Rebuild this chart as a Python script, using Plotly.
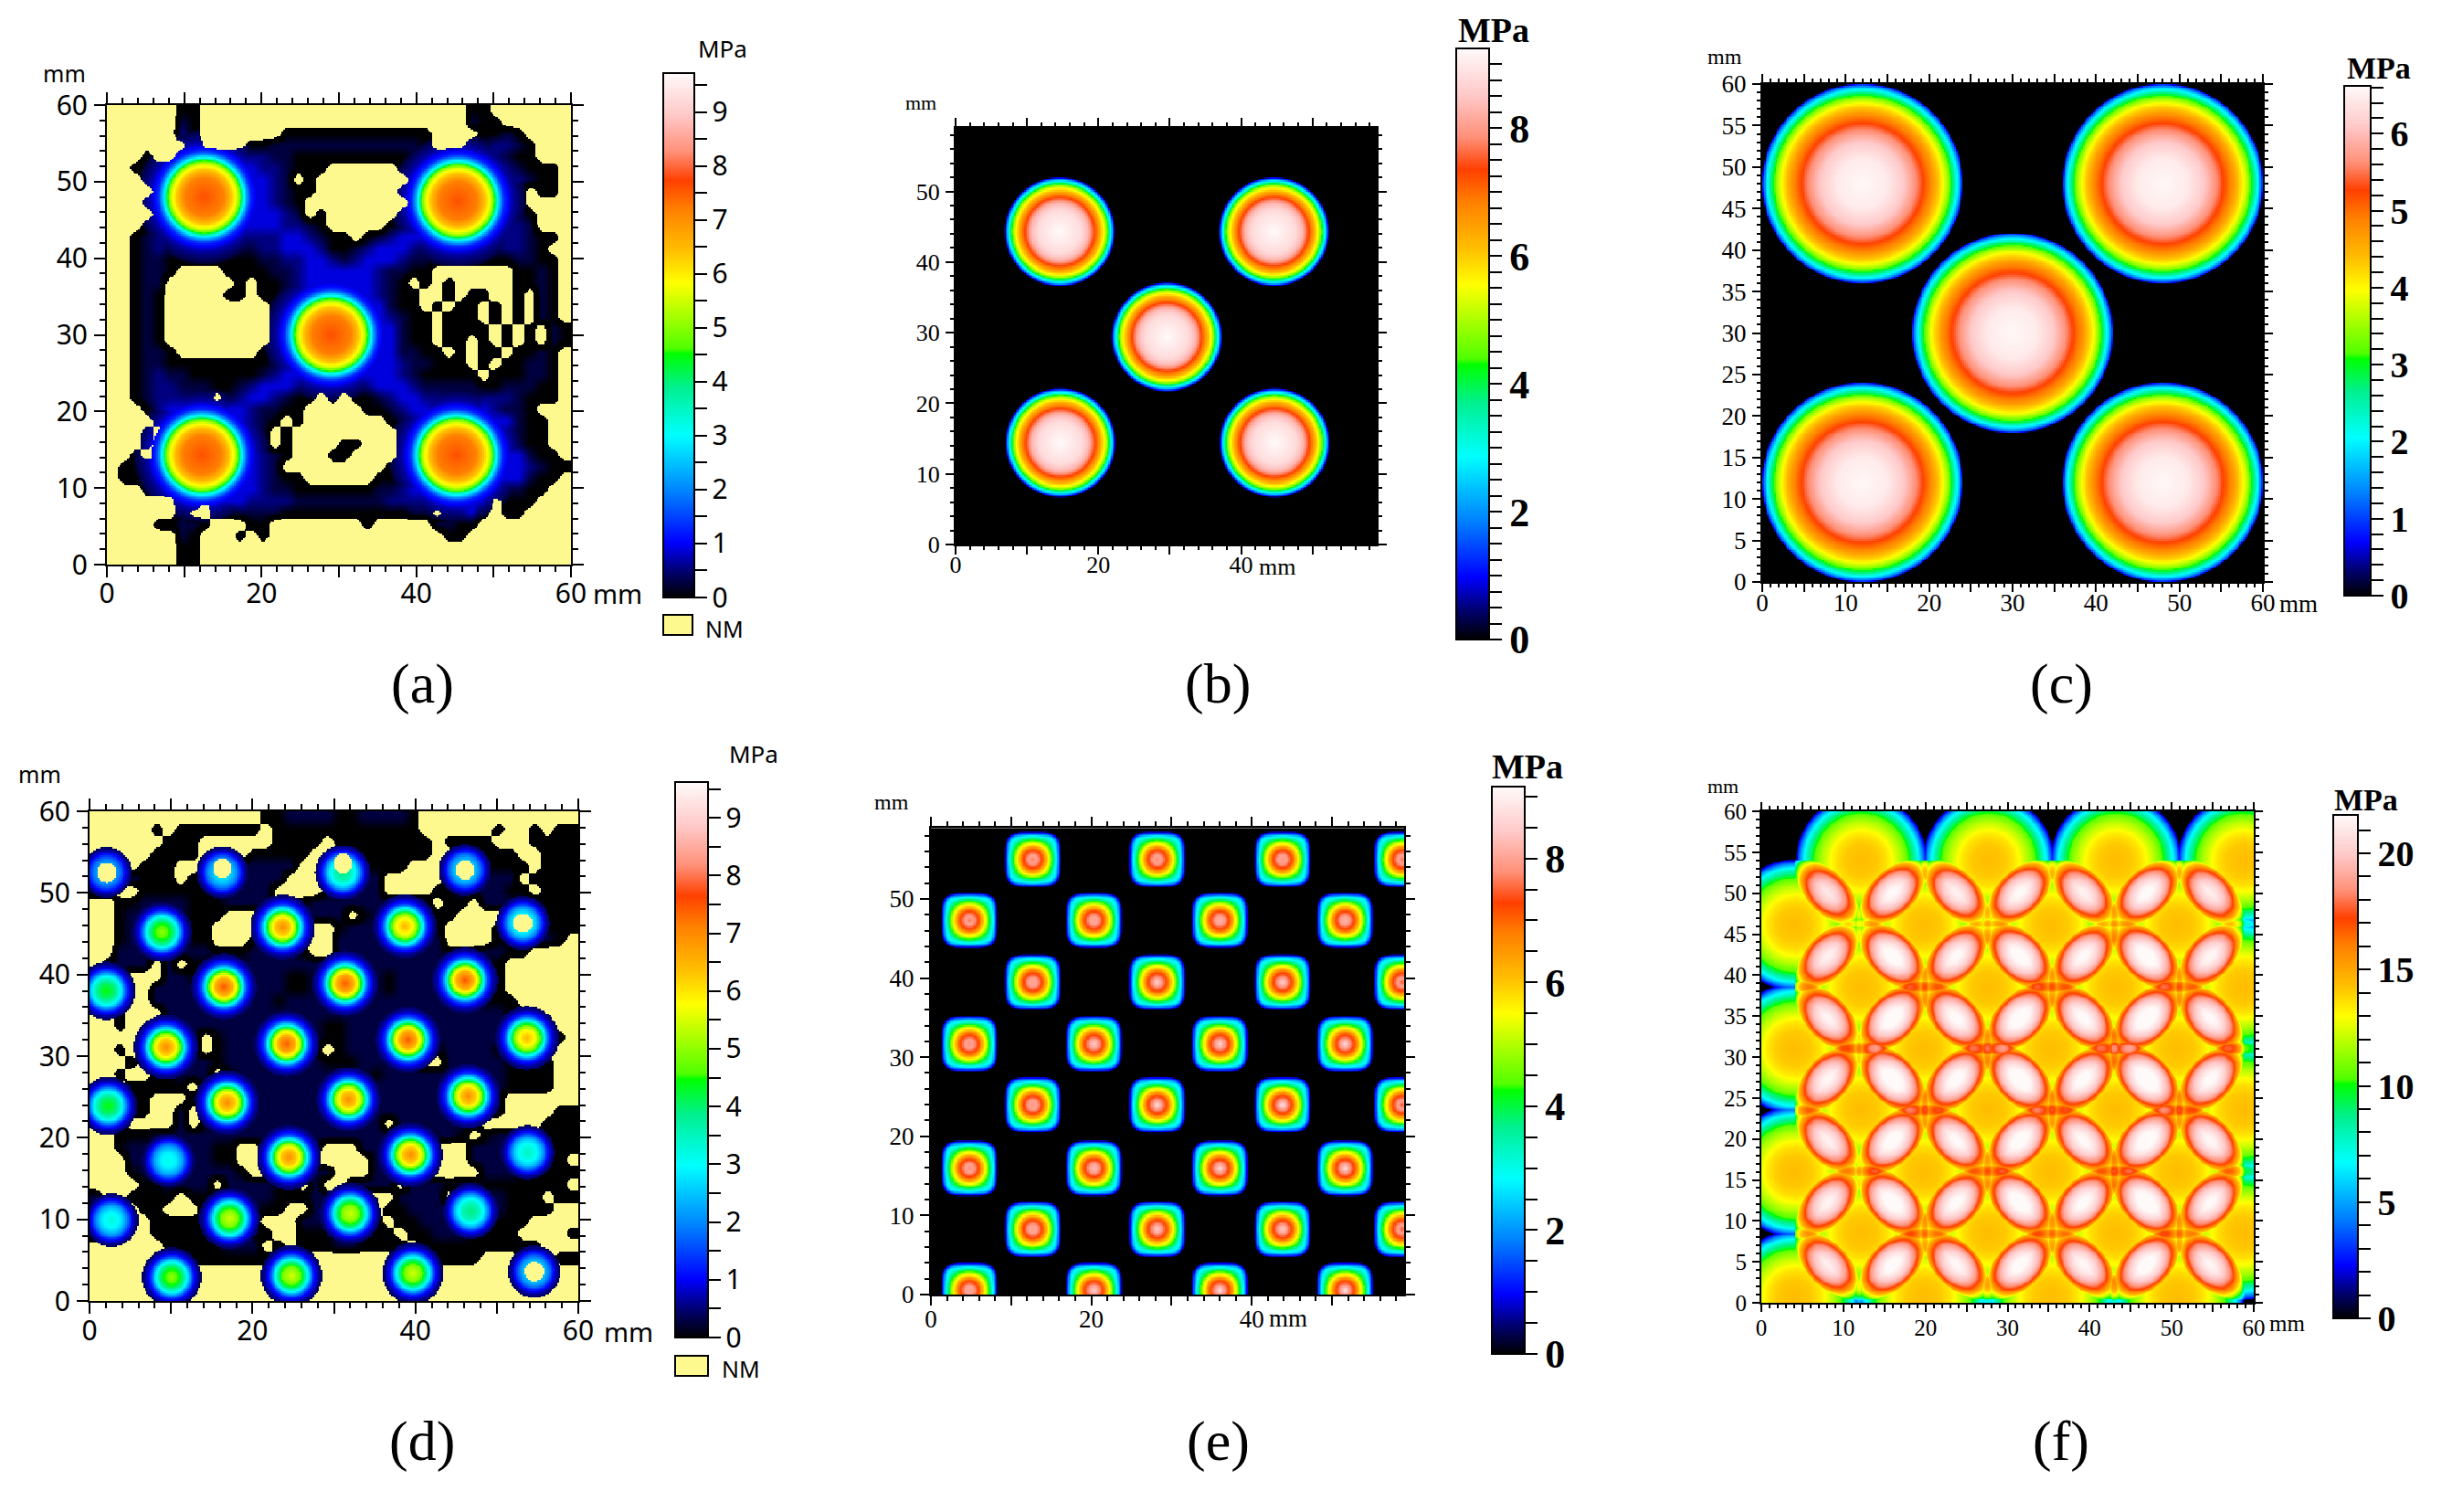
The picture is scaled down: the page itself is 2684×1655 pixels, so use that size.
import numpy as np
import plotly.graph_objects as go

W, H = 2684, 1655
NM_YELLOW = "#fdf98f"
SANS = "Noto Sans"
SERIF = "Liberation Serif"

STRESS_SCALE = [
    [0.0, "#000000"], [0.05, "#000070"], [0.105, "#0000ff"], [0.2, "#0080ff"],
    [0.31, "#00ffff"], [0.40, "#00f090"], [0.465, "#00ff00"], [0.475, "#50ff00"],
    [0.60, "#ffff00"], [0.66, "#ffc000"], [0.74, "#ff8000"], [0.795, "#ff4000"],
    [0.85, "#ff9078"], [0.92, "#ffc8c8"], [1.0, "#fffafa"],
]

# The maps are rebuilt from what can be read off the picture: spot centres,
# a stress-vs-radius profile per panel, and coarse level grids for the
# measured backgrounds (1.5 mm cells). They are not pixel values.

# (a) pressure film, measured
A_SPOT_X = [12.6, 45.4, 29.0, 12.3, 45.2]
A_SPOT_Y = [48.0, 47.5, 30.0, 14.3, 14.3]
A_R = [0, 2.5, 3.5, 4.2, 4.7, 5.1, 5.5, 6.0, 7.0, 8.5, 9.0]
A_STRESS = [7.6, 7.2, 6.4, 5.6, 4.6, 3.2, 2.2, 1.3, 0.7, 0.3, 0.0]
A_LEVELS = [
    "......00.......................00.......",
    "......10.......................100......",
    "......20.......0000000000000....0010....",
    ".......3....0011111111111110...112210...",
    "...0..1301122211000000000011122322100...",
    "..00012233333221000......00123333321000.",
    "...0122333333321.0........0123333322100.",
    "....02333333332100.......00123333321.00.",
    "...01.23333333210.........0123333321....",
    "....0123333333321.0......012333333210...",
    "...0123333333332210.....0123333333221...",
    "..0122211122222332100.01233322122222100.",
    "..012100001112233320012333211000112210..",
    "..0110000000011223321233321100000001100.",
    "..0110....000011233333321100.......0010.",
    "..011......0.0012333333210.0.0.....0010.",
    "..010.....00.00123333332100..0.00..0.10.",
    "..010.........0123333333100.0.00.0.0.10.",
    "..010.........00123333332100.000.0.0.10.",
    "..010.........00123333333100.0000.0.0.10",
    "..010.........00123333333100.00.0.0.0.10",
    "..0110.......0012333333331100.0.00.0010.",
    "..01100000000012333333333211000.0.00110.",
    "..012110000001233321133332100000.000110.",
    "..0122111001233321000123332111110011100.",
    "..0122211.12332100.0.001233221112221000.",
    "...02332123321100.....001233222232110...",
    "....02333333210.0.......01233333333100..",
    "...0.233333321.0.........0123333332100..",
    "...0.233333321.0....00...0123333332100..",
    "..0..33333333210...00....01233333333100.",
    ".00123333333321.........0123333333332100",
    ".0012333333332100......0012333333333100.",
    "...00123333332110000000112333333221100..",
    "......23.333222211111111222233333.000...",
    "......1..0011110000000000011.1230.00....",
    "....00110...00........0.....1100........",
    "......10...0.0...............00.........",
    "......00................................",
    "......00................................",
]

# (d) pressure film, measured
D_SPOT_X = [2.1, 16.3, 31.1, 46.1, 8.9, 23.7, 38.7, 53.2, 2.1, 16.5, 31.4, 46.1, 9.4, 24.2, 39.1, 53.7,
            2.3, 16.9, 31.8, 46.5, 9.7, 24.5, 39.4, 53.8, 2.7, 17.2, 32.0, 46.8, 10.1, 24.8, 39.7, 54.6]
D_SPOT_Y = [52.5, 52.5, 52.5, 52.8, 45.2, 45.8, 45.9, 46.3, 38.0, 38.5, 38.9, 39.3, 31.1, 31.5, 32.0, 32.2,
            23.9, 24.3, 24.7, 25.1, 17.2, 17.6, 17.9, 18.2, 9.9, 10.1, 10.7, 11.0, 2.9, 3.1, 3.4, 3.6]
D_PEAK = [2.6, 3.0, 4.0, 3.0, 5.0, 7.0, 6.5, 3.5, 4.5, 7.5, 7.5, 7.5, 7.0, 7.5, 7.5, 6.5,
          4.5, 7.0, 7.0, 7.0, 3.2, 7.0, 7.0, 3.5, 3.3, 5.5, 5.5, 4.0, 5.0, 5.5, 5.5, 3.0]
D_R = [0, 1.0, 1.6, 2.0, 2.4, 2.8, 3.4, 4.2, 5.0]
D_FRACTION = [1.0, 0.88, 0.72, 0.55, 0.35, 0.2, 0.1, 0.04, 0.0]
D_NM_CORE_X = [2.1, 16.3, 31.1, 46.1, 53.2, 54.6]
D_NM_CORE_Y = [52.5, 53.0, 53.6, 52.8, 46.3, 3.6]
D_LEVELS = [
    "..............0011110011110.............",
    ".....0.0000000.000000000000......0..0.00",
    "......000......0000.00000000.0000...0000",
    ".....0000....00000....000000...0000..000",
    "11..000....111111....00000....000000.000",
    "1111000.00111111.....111.....011111.0000",
    "11..00000011111....00111....00111100.000",
    "..0011110001111.001111111111.00.11111000",
    "..011111000...1111111.01111100....011000",
    "..01111100....1111..011111110....0110000",
    "..01111100...0111...111111111....001110.",
    "..1111111100011110..1111111110001100....",
    ".0111.1.00111111111111111111100000......",
    "111...1100111111001111110111111000......",
    "111..11111111111001111110111111.00......",
    "0....111111111101111111111111111000.....",
    "..0...111111111111111111111111111100....",
    "..0..111111111111110011111111111111000..",
    ".....0111.011111111001111...11111100000.",
    "..0..0111.011111110.01111...011110000...",
    "...0.0011101111111100011110..111110000..",
    "..0..00111.011111111111011111110110000..",
    "...00000.11111111111111111111111110000..",
    "11.00...1.111111111111111111111110......",
    "1..00..1..111111111111111111111110....00",
    "..0....1.011111111111111.1111111.....000",
    "..00011111111111111111111111110.01100000",
    "..0111111100..11111...111111...1111.0000",
    "...111111100..1111.....1111....11110000.",
    "...0111111110..11111...1111.....11100000",
    "....001111.111100.1..1111.1110110000000.",
    "1..0000.001111100011.....1111..111000.00",
    "111.00...1111100..11110.00111111110000..",
    "111..0000.1110...1111100.00111110000....",
    "1....0000011100..00011000.001110000....0",
    "......00000111.0.000110000.0000000000...",
    "........0000000..........0000000...00.00",
    "........................................",
    "........................................",
    "........................................",
]
LEVEL_STRESS = {"0": 0.0, "1": 0.28, "2": 0.55, "3": 0.9, "4": 1.6}

# (b) simulated, five punches
B_SPOT_X = [14.6, 44.6, 29.6, 14.7, 44.7]
B_SPOT_Y = [44.3, 44.3, 29.4, 14.4, 14.4]
B_R = [0, 3.0, 4.0, 4.9, 5.6, 6.2, 6.7, 7.1, 7.4, 7.6, 7.8]
B_STRESS = [9.25, 8.8, 8.3, 7.3, 6.4, 5.5, 4.4, 3.0, 2.0, 1.0, 0.0]

# (c) simulated, five larger punches
C_SPOT_X = [12.0, 48.0, 30.0, 12.0, 48.0]
C_SPOT_Y = [48.0, 48.0, 30.0, 12.0, 12.0]
C_R = [0, 3, 5, 6.5, 7.5, 8.5, 9.5, 10, 10.5, 11, 11.5, 11.9, 12.1]
C_STRESS = [6.6, 6.45, 6.1, 5.6, 5.15, 4.7, 4.1, 3.7, 3.2, 2.6, 1.8, 1.0, 0.0]

# (e) simulated, staggered small punches
E_SPOT_X = [12.7, 28.2, 43.8, 58.7, 4.8, 20.3, 36.0, 51.6, 12.7, 28.2, 43.8, 58.7, 4.8, 20.3, 36.0, 51.6,
            12.7, 28.2, 43.8, 58.7, 4.8, 20.3, 36.0, 51.6, 12.7, 28.2, 43.8, 58.7, 4.8, 20.3, 36.0, 51.6]
E_SPOT_Y = [55.0, 55.0, 55.0, 55.0, 47.3, 47.3, 47.3, 47.3, 39.5, 39.5, 39.5, 39.5, 31.7, 31.7, 31.7, 31.7,
            24.0, 24.0, 24.0, 24.0, 16.0, 16.0, 16.0, 16.0, 8.3, 8.3, 8.3, 8.3, 0.6, 0.6, 0.6, 0.6]
E_PEAK = [7.7, 7.8, 7.9, 7.6, 7.6, 8.0, 8.2, 8.2, 8.0, 8.5, 8.5, 7.4, 7.8, 8.5, 8.6, 8.7,
          7.9, 8.7, 8.8, 7.4, 7.8, 8.3, 8.6, 8.7, 8.0, 8.5, 8.5, 7.4, 8.0, 8.5, 8.7, 8.8]
E_R = [0.0, 0.5, 1.0, 1.35, 2.05, 2.35, 2.7, 3.0, 3.25, 3.45, 3.55]
E_STRESS = [8.5, 8.0, 7.4, 6.9, 5.3, 4.4, 3.5, 2.6, 1.5, 0.6, 0.0]

# (f) simulated, overlapping punches: stresses add where they overlap
F_DOME_X = [12.2, 27.7, 43.2, 58.7] * 4 + [4.0, 19.8, 35.3, 50.7] * 4
F_DOME_Y = [54.0] * 4 + [38.5] * 4 + [23.6] * 4 + [8.5] * 4 + [46.1] * 4 + [31.0] * 4 + [16.0] * 4 + [0.8] * 4
F_R = [0, 2, 3, 3.7, 4.8, 5.65, 6.5, 7.0, 7.4, 7.7, 7.95, 8.05]
F_STRESS = [14.4, 14.1, 13.6, 13.0, 11.7, 10.4, 8.2, 6.6, 4.8, 3.2, 1.5, 0.0]
F_OVERLAP_SPREAD = 1.02


def grid(span, step=0.2):
    return np.arange(step / 2, span, step)


def distances(X, Y, cx, cy):
    return np.hypot(X - cx, Y - cy)


def spots_max(X, Y, cxs, cys, r, v):
    z = np.zeros_like(X)
    for cx, cy in zip(cxs, cys):
        z = np.maximum(z, np.interp(distances(X, Y, cx, cy), r, v, right=0))
    return z


def levels_to_z(rows, xs, ys):
    # rows run from the top of the panel down, cells 1.5 mm wide; NM cells
    # sit below zero so the NM outline comes out rounded rather than blocky
    cells = np.full((40, 40), -0.7)
    for i, row in enumerate(rows):
        for j, ch in enumerate(row[:40]):
            if ch in LEVEL_STRESS:
                cells[39 - i, j] = LEVEL_STRESS[ch]
    u = np.clip(xs / 1.5 - 0.5, 0, 38.999)
    v = np.clip(ys / 1.5 - 0.5, 0, 38.999)
    j0, i0 = u.astype(int), v.astype(int)
    fu, fv = (u - j0)[None, :], (v - i0)[:, None]
    f = (cells[np.ix_(i0, j0)] * (1 - fu) * (1 - fv) + cells[np.ix_(i0, j0 + 1)] * fu * (1 - fv)
         + cells[np.ix_(i0 + 1, j0)] * (1 - fu) * fv + cells[np.ix_(i0 + 1, j0 + 1)] * fu * fv)
    return np.where(f < -0.35, np.nan, np.clip(f, 0, None))


def panel_a():
    xs, ys = grid(60), grid(60)
    X, Y = np.meshgrid(xs, ys)
    bg = levels_to_z(A_LEVELS, xs, ys)
    spots = spots_max(X, Y, A_SPOT_X, A_SPOT_Y, A_R, A_STRESS)
    z = np.where(spots > 1.0, spots, bg)
    z = np.where((spots > 0) & ~np.isnan(bg), np.maximum(spots, bg), z)
    return xs, ys, z


def panel_d():
    xs, ys = grid(60), grid(60)
    X, Y = np.meshgrid(xs, ys)
    bg = levels_to_z(D_LEVELS, xs, ys)
    z = bg.copy()
    for cx, cy, peak in zip(D_SPOT_X, D_SPOT_Y, D_PEAK):
        s = peak * np.interp(distances(X, Y, cx, cy), D_R, D_FRACTION, right=0)
        z = np.where(s > 0.4, np.fmax(z, s), z)
    for cx, cy in zip(D_NM_CORE_X, D_NM_CORE_Y):
        z[distances(X, Y, cx, cy) < 1.2] = np.nan
    return xs, ys, z


def panel_b():
    xs, ys = grid(59), grid(59)
    X, Y = np.meshgrid(xs, ys)
    return xs, ys, spots_max(X, Y, B_SPOT_X, B_SPOT_Y, B_R, B_STRESS)


def panel_c():
    xs, ys = grid(60), grid(60)
    X, Y = np.meshgrid(xs, ys)
    return xs, ys, spots_max(X, Y, C_SPOT_X, C_SPOT_Y, C_R, C_STRESS)


def panel_e():
    xs, ys = grid(59, 0.15), grid(59, 0.15)
    X, Y = np.meshgrid(xs, ys)
    z = np.zeros_like(X)
    for cx, cy, peak in zip(E_SPOT_X, E_SPOT_Y, E_PEAK):
        dx, dy = np.abs(X - cx), np.abs(Y - cy)
        round_d = np.hypot(dx, dy)
        square_d = (dx ** 4 + dy ** 4) ** 0.25
        # round near the centre, squarish only towards the rim
        d = round_d + (square_d - round_d) * np.clip(round_d / 3.55, 0, 1) ** 3
        z = np.maximum(z, np.interp(d, E_R, [peak] + E_STRESS[1:], right=0))
    return xs, ys, z


def panel_f():
    xs, ys = grid(60, 0.1), grid(60, 0.1)
    X, Y = np.meshgrid(xs, ys)
    summed = np.zeros_like(X)
    largest = np.zeros_like(X)
    for cx, cy in zip(F_DOME_X, F_DOME_Y):
        d = distances(X, Y, cx, cy)
        summed += np.interp(d / F_OVERLAP_SPREAD, F_R, F_STRESS, right=0)
        largest = np.maximum(largest, np.interp(d, F_R, F_STRESS, right=0))
    # no overlap is drawn left of x=4 or above y=54
    z = np.where((X < 4.1) | (Y > 54), largest, summed)
    return xs, ys, z


def px_x(v):
    return v / W


def px_y(v):
    return 1 - v / H


def axis_common(a, b, horizontal, p, labelled):
    span = p["span"]
    vals = list(range(0, int(span) + 1, p["major"]))
    text = [str(v) if v % labelled == 0 else "" for v in vals]
    return dict(
        domain=[px_x(a), px_x(b)] if horizontal else [px_y(b), px_y(a)],
        range=[0, span],
        tickmode="array", tickvals=vals, ticktext=text,
        ticks="outside", ticklen=p["ticklen"], tickwidth=2, tickcolor="#000000",
        minor=dict(ticks="outside", tickmode="linear", dtick=p["minor"], ticklen=p["ticklen"] // 2,
                   tickwidth=2, tickcolor="#000000"),
        showline=True, linecolor="#000000", linewidth=2, mirror="ticks",
        showgrid=False, zeroline=False, tickfont=p["font"],
        ticklabelstandoff=p["standoff"] if horizontal else 1,
    )


PANELS = [
    dict(build=panel_a, box=(117, 625, 115, 618), span=60, cmax=9.72, major=10, xlabel=20, ylabel=10, minor=2,
         ticklen=12, standoff=-8, font=dict(family=SANS, size=30, color="#000000"), bar=(726, 760, 80, 654), step=0.5,
         ticklabel=1, barfont=dict(family=SANS, size=30, color="#000000"), nm=True),
    dict(build=panel_b, box=(1046, 1507, 140, 596), span=59, cmax=9.25, major=10, xlabel=20, ylabel=10, minor=2,
         ticklen=9, standoff=-11, font=dict(family=SERIF, size=26, color="#000000"), bar=(1594, 1630, 53, 700), step=0.25,
         ticklabel=2, barfont=dict(family=SERIF, size=44, color="#000000", weight="bold"), nm=False),
    dict(build=panel_c, box=(1929, 2477, 92, 637), span=60, cmax=6.62, major=5, xlabel=10, ylabel=5, minor=1,
         ticklen=9, standoff=-11, font=dict(family=SERIF, size=27, color="#000000"), bar=(2566, 2595, 94, 652), step=0.2,
         ticklabel=1, barfont=dict(family=SERIF, size=40, color="#000000", weight="bold"), nm=False),
    dict(build=panel_d, box=(98, 633, 888, 1424), span=60, cmax=9.62, major=10, xlabel=20, ylabel=10, minor=2,
         ticklen=12, standoff=-7, font=dict(family=SANS, size=30, color="#000000"), bar=(739, 775, 856, 1464), step=0.5,
         ticklabel=1, barfont=dict(family=SANS, size=30, color="#000000"), nm=True),
    dict(build=panel_e, box=(1019, 1537, 906, 1417), span=59, cmax=9.16, major=10, xlabel=20, ylabel=10, minor=2,
         ticklen=10, standoff=-8, font=dict(family=SERIF, size=27, color="#000000"), bar=(1633, 1669, 861, 1482), step=0.5,
         ticklabel=2, barfont=dict(family=SERIF, size=44, color="#000000", weight="bold"), nm=False),
    dict(build=panel_f, box=(1928, 2467, 888, 1426), span=60, cmax=21.65, major=5, xlabel=10, ylabel=5, minor=1,
         ticklen=8, standoff=-4, font=dict(family=SERIF, size=25, color="#000000"), bar=(2554, 2581, 892, 1443), step=1,
         ticklabel=5, barfont=dict(family=SERIF, size=40, color="#000000", weight="bold"), nm=False),
]

NOTES = [
    ("mm", 70, 80, SANS, 25, False), ("MPa", 791, 53, SANS, 26, False), ("mm", 676, 649, SANS, 29, False),
    ("NM", 793, 688, SANS, 25, False), ("(a)", 462, 748, SERIF, 62, False),
    ("mm", 1008, 113, SERIF, 22, False), ("MPa", 1635, 33, SERIF, 38, True), ("mm", 1398, 620, SERIF, 26, False),
    ("(b)", 1333, 748, SERIF, 62, False),
    ("mm", 1888, 62, SERIF, 24, False), ("MPa", 2604, 75, SERIF, 34, True), ("mm", 2516, 661, SERIF, 27, False),
    ("(c)", 2256, 748, SERIF, 62, False),
    ("mm", 43, 847, SANS, 25, False), ("MPa", 825, 825, SANS, 26, False), ("mm", 688, 1457, SANS, 29, False),
    ("NM", 811, 1498, SANS, 25, False), ("(d)", 462, 1577, SERIF, 62, False),
    ("mm", 976, 878, SERIF, 24, False), ("MPa", 1672, 839, SERIF, 38, True), ("mm", 1410, 1443, SERIF, 27, False),
    ("(e)", 1333, 1577, SERIF, 62, False),
    ("mm", 1886, 861, SERIF, 22, False), ("MPa", 2590, 875, SERIF, 34, True), ("mm", 2503, 1448, SERIF, 25, False),
    ("(f)", 2256, 1577, SERIF, 62, False),
]

NM_BOXES = [(726, 758, 673, 695), (739, 775, 1484, 1506)]

fig = go.Figure()
layout = dict(
    width=W, height=H, margin=dict(l=0, r=0, t=0, b=0, autoexpand=False),
    paper_bgcolor="#ffffff", plot_bgcolor="#ffffff", showlegend=False,
)

for n, p in enumerate(PANELS, start=1):
    suffix = "" if n == 1 else str(n)
    xs, ys, z = p["build"]()
    x0, x1, y0, y1 = p["box"]
    bx0, bx1, by0, by1 = p["bar"]
    if p["nm"]:
        fig.add_trace(go.Heatmap(
            x=xs, y=ys, z=np.ones_like(z), colorscale=[[0, NM_YELLOW], [1, NM_YELLOW]],
            showscale=False, xaxis="x" + suffix, yaxis="y" + suffix, hoverinfo="skip",
        ))
    fig.add_trace(go.Heatmap(
        x=xs, y=ys, z=z, coloraxis="coloraxis" + suffix, xaxis="x" + suffix, yaxis="y" + suffix,
    ))
    xax = axis_common(x0, x1, True, p, p["xlabel"])
    yax = axis_common(y0, y1, False, p, p["ylabel"])
    xax["anchor"] = "y" + suffix
    yax["anchor"] = "x" + suffix
    layout["xaxis" + suffix] = xax
    layout["yaxis" + suffix] = yax

    bar_vals = np.arange(0, p["cmax"], p["step"])
    layout["coloraxis" + suffix] = dict(
        cmin=0, cmax=p["cmax"], colorscale=STRESS_SCALE,
        colorbar=dict(
            x=px_x(bx0), xanchor="left", xpad=0, y=px_y(by1), yanchor="bottom", ypad=0,
            thicknessmode="pixels", thickness=bx1 - bx0, lenmode="pixels", len=by1 - by0,
            outlinecolor="#000000", outlinewidth=2,
            tickmode="array", tickvals=[float(v) for v in bar_vals],
            ticktext=[f"{v:g}" if abs(v / p["ticklabel"] - round(v / p["ticklabel"])) < 1e-6 else "" for v in bar_vals],
            ticks="outside", ticklen=13, tickwidth=2, tickcolor="#000000", tickfont=p["barfont"],
        ),
    )

annotations = []
for text, x, y, family, size, bold in NOTES:
    font = dict(family=family, size=size, color="#000000")
    if bold:
        font["weight"] = "bold"
    annotations.append(dict(
        text=text, x=px_x(x), y=px_y(y), xref="paper", yref="paper",
        xanchor="center", yanchor="middle", showarrow=False, font=font,
    ))
layout["annotations"] = annotations
layout["shapes"] = [
    dict(type="rect", xref="paper", yref="paper", x0=px_x(a), x1=px_x(b), y0=px_y(d), y1=px_y(c),
         fillcolor=NM_YELLOW, line=dict(color="#000000", width=2))
    for a, b, c, d in NM_BOXES
]
fig.update_layout(**layout)

fig.write_html("out.html", config=dict(displayModeBar=False), post_script="document.body.style.margin='0';")
